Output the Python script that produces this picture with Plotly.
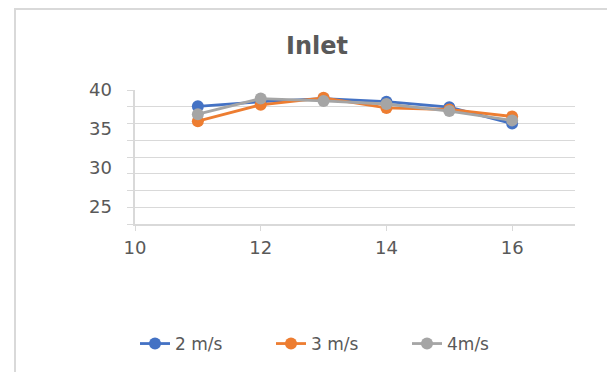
import plotly.graph_objects as go

x_vals = [11, 12, 13, 14, 15, 16]
s_2ms = [37.9, 38.5, 38.9, 38.5, 37.8, 35.7]
s_3ms = [36.0, 38.1, 39.0, 37.7, 37.5, 36.6]
s_4ms = [36.9, 38.9, 38.6, 38.2, 37.3, 36.1]
names = ["2 m/s", "3 m/s", "4m/s"]
colors = ["#4472C4", "#ED7D31", "#A5A5A5"]
y_labels = [25, 30, 35, 40]
x_ticks = [10, 12, 14, 16]

Y_MIN, Y_MAX = 22.8, 40
grid_step = (Y_MAX - Y_MIN) / 8

FONT = "DejaVu Sans, Liberation Sans, Arial, sans-serif"

fig = go.Figure()
for name, ys, c in zip(names, [s_2ms, s_3ms, s_4ms], colors):
    fig.add_trace(go.Scatter(
        x=x_vals, y=ys, name=name, mode="lines+markers",
        line=dict(color=c, width=2.8),
        marker=dict(color=c, size=12),
    ))
fig.add_trace(go.Scatter(x=[None], y=[None], yaxis="y2", showlegend=False, hoverinfo="skip"))

# page is drawn with an 8px body offset
W, H = 607, 364
L, R, T, B = 127, 40, 82, 148
pw = W - L - R
ph = H - T - B

fig.update_layout(
    width=W, height=H,
    margin=dict(l=L, r=R, t=T, b=B),
    paper_bgcolor="white", plot_bgcolor="white",
    font=dict(family=FONT, color="#595959", size=17),
    title=dict(text="Inlet", x=309 / W, xanchor="center", xref="container",
               y=1 - 38 / H, yref="container", yanchor="middle",
               font=dict(size=24, color="#595959", family=FONT, weight="bold")),
    xaxis=dict(range=[10, 17], tickvals=x_ticks, showgrid=False, zeroline=False,
               showline=True, linecolor="#d9d9d9", linewidth=1.5,
               ticks="outside", ticklen=5, tickcolor="#d9d9d9",
               ticklabelstandoff=2,
               tickfont=dict(size=18, color="#595959", family=FONT)),
    yaxis=dict(range=[Y_MIN, Y_MAX], dtick=grid_step, tick0=Y_MIN,
               showgrid=True, gridcolor="#d9d9d9", gridwidth=1.2,
               showticklabels=False, zeroline=False,
               showline=True, linecolor="#d9d9d9", linewidth=1.5,
               ticks="outside", ticklen=6, tickcolor="#d9d9d9"),
    yaxis2=dict(range=[Y_MIN, Y_MAX], tickvals=y_labels, overlaying="y", side="left",
                showgrid=False, zeroline=False, showline=False, ticks="",
                ticklabelstandoff=22,
                tickfont=dict(size=18, color="#595959", family=FONT)),
    legend=dict(orientation="h", x=127 / W, xanchor="left", xref="container",
                y=1 - 336 / H, yref="container", yanchor="middle",
                font=dict(size=17, color="#595959", family=FONT),
                entrywidth=91, entrywidthmode="pixels",
                bgcolor="rgba(0,0,0,0)"),
    shapes=[dict(type="rect", xref="paper", yref="paper",
                 x0=(7 - L) / pw, x1=(W + 10 - L) / pw,
                 y0=(H - B - (H + 10)) / ph, y1=(H - B - 1) / ph,
                 line=dict(color="#d9d9d9", width=2), fillcolor="rgba(0,0,0,0)", layer="below")],
)

fig.write_html("out.html")
